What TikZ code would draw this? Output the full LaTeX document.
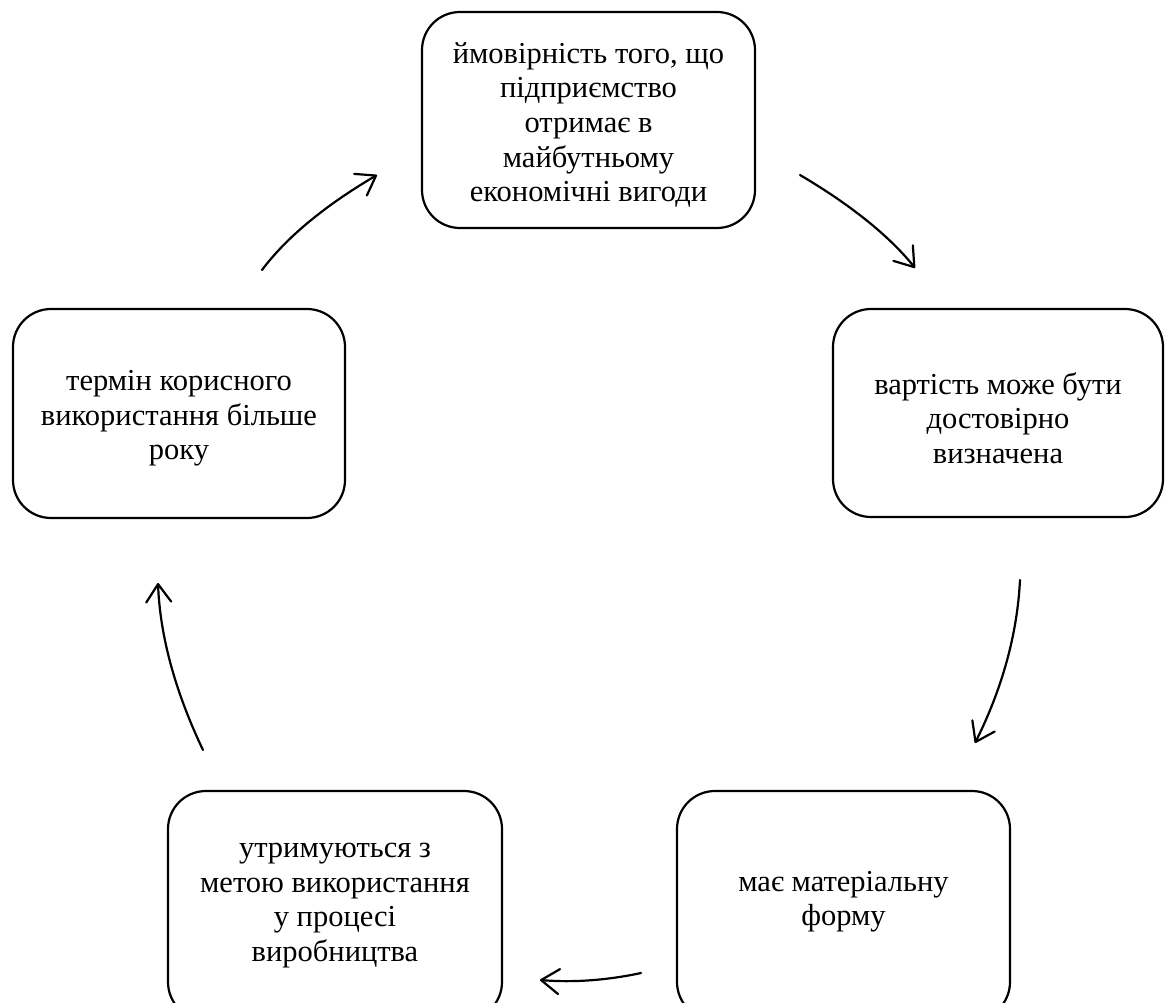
\documentclass[tikz,border=0pt]{standalone}
\usepackage{fontspec}
\setmainfont{Liberation Serif}
\usetikzlibrary{arrows.meta}
\begin{document}
\begin{tikzpicture}[x=1pt,y=-1pt,
  stage/.style={draw=black, line width=2.2pt, rounded corners=38pt,
    inner sep=0pt},
  words/.style={align=center, inner sep=0pt,
    font=\fontsize{30.5}{34.6}\selectfont},
  cycle/.style={line width=2.2pt, line cap=round,
    -{Straight Barb[length=18pt,width=25pt,line cap=round,line join=round]}}]
\useasboundingbox (0,0) rectangle (1165,1003);
\clip (0,0) rectangle (1165,1003);

% five conditions, placed round a circle
\node[stage, minimum width=333, minimum height=216] (top) at (588.5,120) {};
\node[stage, minimum width=330, minimum height=208] (right) at (998,413) {};
\node[stage, minimum width=333, minimum height=229] (botright) at (843.5,905.5) {};
\node[stage, minimum width=334, minimum height=229] (botleft) at (335,905.5) {};
\node[stage, minimum width=332, minimum height=209] (left) at (179,413.5) {};

% their texts, set a little below each box's centre
\node[words] (toptext) at ([yshift=-5pt]top.center)
  {ймовірність того, що\\підприємство\\отримає в\\майбутньому\\економічні вигоди};
\node[words] (righttext) at ([yshift=-5pt]right.center)
  {вартість може бути\\достовірно\\визначена};
\node[words] (botrighttext) at ([yshift=4pt]botright.center)
  {має матеріальну\\форму};
\node[words] (botlefttext) at ([yshift=0pt]botleft.center)
  {утримуються з\\метою використання\\у процесі\\виробництва};
\node[words] (lefttext) at ([yshift=-5pt]left.center)
  {термін корисного\\використання більше\\року};

% free ends of the curved arrows
\coordinate (a1s) at (262,270);  \coordinate (a1e) at (377,175);
\coordinate (a2s) at (800,175);  \coordinate (a2e) at (915,268);
\coordinate (a3s) at (1020,580); \coordinate (a3e) at (975,743);
\coordinate (a4s) at (641,973);  \coordinate (a4e) at (540,980);
\coordinate (a5s) at (203,750);  \coordinate (a5e) at (158,583);

\draw[cycle] (a1s) .. controls (286.5,237.3) and (324.8,205.7) .. (a1e);
\draw[cycle] (a2s) .. controls (852.2,205.7) and (890.5,237.3) .. (a2e);
\draw[cycle] (a3s) .. controls (1017.3,634) and (1002.3,688.3) .. (a3e);
\draw[cycle] (a4s) .. controls (607,980.3) and (573.3,982.7) .. (a4e);
\draw[cycle] (a5s) .. controls (175,691.3) and (160,635.7) .. (a5e);
\end{tikzpicture}
\end{document}
